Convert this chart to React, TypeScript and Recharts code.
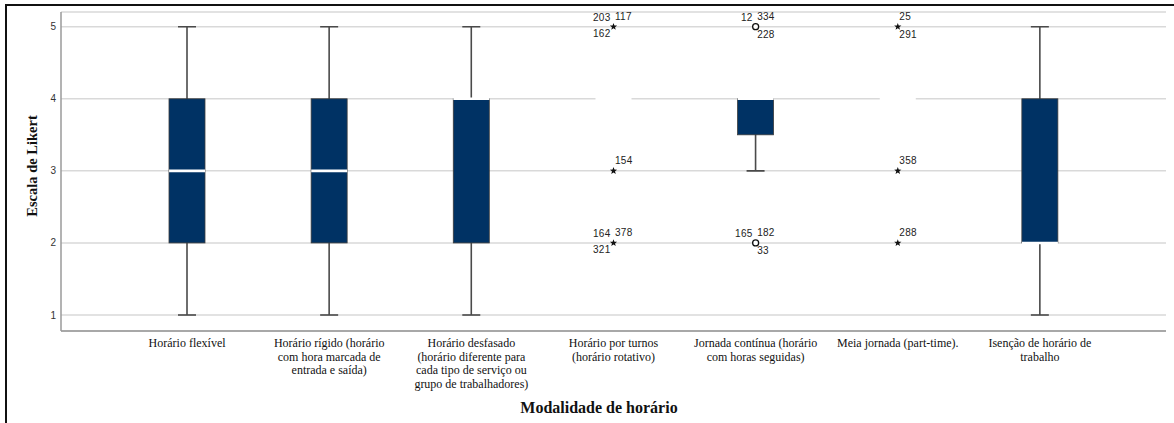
import { ComposedChart, Bar, Scatter, XAxis, YAxis, CartesianGrid } from 'recharts';

const categories = [
  'Horário flexível',
  'Horário rígido (horário com hora marcada de entrada e saída)',
  'Horário desfasado (horário diferente para cada tipo de serviço ou grupo de trabalhadores)',
  'Horário por turnos (horário rotativo)',
  'Jornada contínua (horário com horas seguidas)',
  'Meia jornada (part-time).',
  'Isenção de horário de trabalho',
];

const tickLines = [
  ['Horário flexível'],
  ['Horário rígido (horário', 'com hora marcada de', 'entrada e saída)'],
  ['Horário desfasado', '(horário diferente para', 'cada tipo de serviço ou', 'grupo de trabalhadores)'],
  ['Horário por turnos', '(horário rotativo)'],
  ['Jornada contínua (horário', 'com horas seguidas)'],
  ['Meia jornada (part-time).'],
  ['Isenção de horário de', 'trabalho'],
];

const whiskerLow = [1, 1, 1, 4, 3, 4, 1];
const q1 = [2, 2, 2, 4, 3.5, 4, 2];
const medians = [3, 3, 4, 4, 4, 4, 2];
const q3 = [4, 4, 4, 4, 4, 4, 4];
const whiskerHigh = [5, 5, 5, 4, 4, 4, 5];

// '*' = extreme, 'o' = outlier
const outlierKinds = ['', '', '', '*', 'o', '*', ''];
const highOutliers = [null, null, null, 5, 5, 5, null];
const midOutliers = [null, null, null, 3, null, 3, null];
const lowOutliers = [null, null, null, 2, 2, 2, null];

type CaseLabel = [string, 'ul' | 'ur' | 'll' | 'lr'];
const highLabels: CaseLabel[][] = [
  [], [], [],
  [['203', 'ul'], ['117', 'ur'], ['162', 'll']],
  [['12', 'ul'], ['334', 'ur'], ['228', 'lr']],
  [['25', 'ur'], ['291', 'lr']],
  [],
];
const midLabels: CaseLabel[][] = [[], [], [], [['154', 'ur']], [], [['358', 'ur']], []];
const lowLabels: CaseLabel[][] = [
  [], [], [],
  [['164', 'ul'], ['378', 'ur'], ['321', 'll']],
  [['165', 'ul'], ['182', 'ur'], ['33', 'lr']],
  [['288', 'ur']],
  [],
];

const yTicks = [1, 2, 3, 4, 5];

const data = categories.map((name, i) => ({
  name,
  idx: i,
  whisker: [whiskerLow[i], whiskerHigh[i]],
  box: [q1[i], q3[i]],
  median: medians[i],
  kind: outlierKinds[i],
  hi: highOutliers[i],
  mid: midOutliers[i],
  lo: lowOutliers[i],
}));

const BOX_W = 36;
const BOX_FILL = '#003264';
const LABEL_FONT = '"Liberation Sans", Arial, sans-serif';
const SERIF = '"Liberation Serif", "Times New Roman", serif';

const WhiskerShape = (props: any) => {
  const { x, y, width, height } = props;
  if (!height) return <g />;
  const top = height < 0 ? y + height : y;
  const bottom = top + Math.abs(height);
  const cx = x + width / 2;
  return (
    <g stroke="#4a4a4a" strokeWidth={1.6}>
      <line x1={cx} x2={cx} y1={top} y2={bottom} />
      <line x1={cx - 9} x2={cx + 9} y1={top} y2={top} />
      <line x1={cx - 9} x2={cx + 9} y1={bottom} y2={bottom} />
    </g>
  );
};

const BoxShape = (props: any) => {
  const { x, y, width, height } = props;
  if (!height) return <g />;
  const top = height < 0 ? y + height : y;
  return (
    <rect x={x} y={top} width={width} height={Math.abs(height)} fill={BOX_FILL} stroke="#3c3c3c" strokeWidth={0.8} />
  );
};

const MedianShape = (props: any) => {
  const { cx, cy } = props;
  if (cx == null || cy == null) return <g />;
  return <line x1={cx - BOX_W / 2} x2={cx + BOX_W / 2} y1={cy} y2={cy} stroke="#ffffff" strokeWidth={2.6} />;
};

const starPath = (cx: number, cy: number, r: number) => {
  const pts: string[] = [];
  for (let k = 0; k < 10; k++) {
    const rad = k % 2 === 0 ? r : r * 0.42;
    const a = -Math.PI / 2 + (k * Math.PI) / 5;
    pts.push(`${(cx + rad * Math.cos(a)).toFixed(2)},${(cy + rad * Math.sin(a)).toFixed(2)}`);
  }
  return `M${pts.join('L')}Z`;
};

const labelPos = {
  ul: { dx: -3, dy: -5.5, anchor: 'end' },
  ur: { dx: 1.5, dy: -7, anchor: 'start' },
  ll: { dx: -3, dy: 10.5, anchor: 'end' },
  lr: { dx: 1.5, dy: 11.5, anchor: 'start' },
};

const outlierShape = (labels: CaseLabel[][], key: 'hi' | 'mid' | 'lo') => (props: any) => {
  const { cx, cy, payload } = props;
  if (!payload || payload[key] == null || cx == null || cy == null) return <g />;
  const list = labels[payload.idx] || [];
  return (
    <g>
      {payload.kind === 'o' ? (
        <circle cx={cx} cy={cy} r={3} fill="#fff" stroke="#111" strokeWidth={1.3} />
      ) : (
        <path d={starPath(cx, cy, 3.8)} fill="#111" />
      )}
      {list.map(([id, pos]) => {
        const p = labelPos[pos];
        return (
          <text
            key={id}
            x={cx + p.dx}
            y={cy + p.dy}
            textAnchor={p.anchor as any}
            fontSize={10}
            fontFamily={LABEL_FONT}
            fill="#222"
            letterSpacing={0.3}
          >
            {id}
          </text>
        );
      })}
    </g>
  );
};

const CategoryTick = (props: any) => {
  const { x, y, index } = props;
  const lines = tickLines[index] || [];
  return (
    <text x={x} y={y + 8} textAnchor="middle" fontSize={12} fontFamily={SERIF} fill="#111">
      {lines.map((line, i) => (
        <tspan key={i} x={x} dy={i === 0 ? 0 : 13.5}>
          {line}
        </tspan>
      ))}
    </text>
  );
};

const XTitle = (props: any) => {
  const vb = props.viewBox;
  return (
    <text x={vb.x + vb.width / 2 - 14.5} y={vb.y + 82} textAnchor="middle" fontSize={16} fontWeight="bold" fontFamily={SERIF} fill="#111">
      Modalidade de horário
    </text>
  );
};

const YTitle = (props: any) => {
  const vb = props.viewBox;
  const x = vb.x + 32;
  const y = vb.y + vb.height / 2 - 5.5;
  return (
    <text x={x} y={y} transform={`rotate(-90, ${x}, ${y})`} textAnchor="middle" dominantBaseline="central" fontSize={14.5} fontWeight="bold" fontFamily={SERIF} fill="#111">
      Escala de Likert
    </text>
  );
};

export default function App() {
  return (
    <div style={{ position: 'absolute', left: 0, top: 0, width: 1174, height: 423, background: '#fff', overflow: 'hidden' }}>
      <div style={{ position: 'absolute', left: 5, top: 4, width: 1300, height: 600, borderTop: '2px solid #111', borderLeft: '2px solid #111' }} />
      <ComposedChart width={1174} height={423} data={data} barGap={-BOX_W} margin={{ top: 12, right: 8, bottom: 0, left: 0 }}>
        <CartesianGrid vertical={false} stroke="#d9d9d9" strokeWidth={1.5} />
        <XAxis
          dataKey="name"
          type="category"
          interval={0}
          height={92}
          padding={{ left: 55, right: 55 }}
          tickLine={false}
          axisLine={{ stroke: '#a8a8a8', strokeWidth: 2 }}
          tick={CategoryTick}
          label={XTitle}
        />
        <YAxis
          type="number"
          width={61}
          domain={[0.778, 5.204]}
          ticks={yTicks}
          allowDataOverflow
          tickLine={false}
          tickSize={3}
          tickMargin={2}
          axisLine={{ stroke: '#9a9a9a', strokeWidth: 1.5 }}
          tick={{ fontSize: 10, fill: '#333', fontFamily: LABEL_FONT }}
          label={YTitle}
        />
        <Bar dataKey="whisker" barSize={BOX_W} shape={WhiskerShape} isAnimationActive={false} />
        <Bar dataKey="box" barSize={BOX_W} shape={BoxShape} isAnimationActive={false} />
        <Scatter dataKey="median" shape={MedianShape} isAnimationActive={false} />
        <Scatter dataKey="hi" shape={outlierShape(highLabels, 'hi')} isAnimationActive={false} />
        <Scatter dataKey="mid" shape={outlierShape(midLabels, 'mid')} isAnimationActive={false} />
        <Scatter dataKey="lo" shape={outlierShape(lowLabels, 'lo')} isAnimationActive={false} />
      </ComposedChart>
    </div>
  );
}
